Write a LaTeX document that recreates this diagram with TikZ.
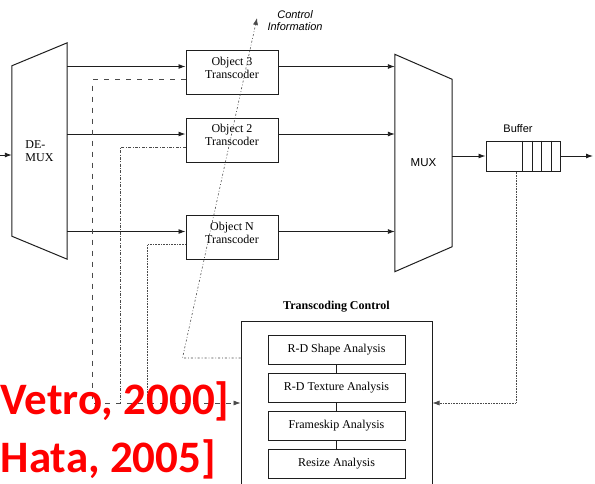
\documentclass[tikz,border=0pt]{standalone}
\usepackage{fontspec}
\setmainfont{Liberation Serif}
\setsansfont{Liberation Sans}
\newfontfamily\citefont{Carlito}
\usetikzlibrary{arrows.meta,positioning}
\definecolor{ink}{HTML}{1E1E1E}
\definecolor{trace}{HTML}{4A4A4A}
\definecolor{citered}{HTML}{FF0000}
\tikzset{box/.style={draw=ink,line width=1pt,align=center,
  font=\fontsize{12}{13}\selectfont,inner sep=2pt},
  objbox/.style={box,minimum width=92pt,minimum height=44pt},
  boxtext/.style={align=center,font=\fontsize{12}{13}\selectfont,yshift=5pt},
  stagebox/.style={box,minimum width=137pt,minimum height=29pt},
  muxbox/.style={inner sep=0pt,font=\fontsize{12}{13}\selectfont},
  arrow/.style={-{Latex[length=7pt,width=5pt]},line width=0.9pt,draw=ink},
  link/.style={line width=1pt,draw=ink},
  feedA/.style={draw=trace,line width=0.6pt,dash pattern=on 5pt off 6pt},
  feedB/.style={draw=trace,line width=0.5pt,dash pattern=on 3pt off 1.5pt on 0.8pt off 1.5pt},
  feedC/.style={draw=trace,line width=0.6pt,densely dotted},
  ctrlline/.style={draw=trace,line width=0.6pt,dash pattern=on 2pt off 2pt on 0.8pt off 2pt},
  citation/.style={font=\citefont\bfseries\fontsize{45}{54}\selectfont,
  text=citered,anchor=base west,inner sep=0pt}}

\begin{document}
\begin{tikzpicture}[x=1pt,y=-1pt,node distance=8pt]
\useasboundingbox (0,0) rectangle (595,483);
\node[muxbox,align=left,minimum width=55pt,minimum height=216pt] (demux) at (39.5,151) {DE-\\MUX};
\draw[link] (demux.north east) -- (demux.south east) -- ([yshift=23pt]demux.south west)
  -- ([yshift=-23pt]demux.north west) -- cycle;
\node[muxbox,font=\sffamily\fontsize{11.5}{13}\selectfont,minimum width=57pt,minimum height=217pt] (mux) at (423.5,163) {MUX};
\draw[link] (mux.north west) -- (mux.south west) -- ([yshift=25pt]mux.south east)
  -- ([yshift=-25pt]mux.north east) -- cycle;
\node[objbox,label={[boxtext]center:{Object 3\\Transcoder}}] (obj3) at (232,72.5) {};
\node[objbox,label={[boxtext]center:{Object 2\\Transcoder}}] (obj2) at (232,140) {};
\node[objbox,label={[boxtext]center:{Object N\\Transcoder}}] (objN) at (232,237.5) {};
\node[box,minimum width=74pt,minimum height=30pt] (buf) at (523,156) {};
\node[font=\sffamily\fontsize{11}{12}\selectfont,above=4pt of buf,xshift=-5pt] (buftitle) {Buffer};
\draw[link] ([xshift=-1pt]buf.north) -- ([xshift=-1pt]buf.south);
\draw[link] ([xshift=9pt]buf.north) -- ([xshift=9pt]buf.south);
\draw[link] ([xshift=18pt]buf.north) -- ([xshift=18pt]buf.south);
\draw[link] ([xshift=28pt]buf.north) -- ([xshift=28pt]buf.south);
\node[box,minimum width=191pt,minimum height=164pt] (ctrl) at (336.5,403) {};
\node[font=\bfseries\fontsize{12}{13}\selectfont,above=5pt of ctrl] (ctrltitle) {Transcoding Control};
\node[stagebox,anchor=north] (shape) at ([yshift=-14pt]ctrl.north) {R-D Shape Analysis};
\node[stagebox,below=of shape] (texture) {R-D Texture Analysis};
\node[stagebox,below=of texture] (frameskip) {Frameskip Analysis};
\node[stagebox,below=of frameskip] (resize) {Resize Analysis};
\coordinate (in) at (0,155);
\coordinate (out) at (593,156);
\coordinate (ci) at (257,18);
\node[font=\sffamily\itshape\fontsize{11}{12}\selectfont,align=center,right=7pt of ci,yshift=-3pt] (citext) {Control\\Information};
\draw[link] (shape) -- (texture);
\draw[link] (texture) -- (frameskip);
\draw[link] (frameskip) -- (resize);
\draw[arrow] (in) -- (in -| demux.west);
\draw[arrow] ([yshift=6pt]obj3.west -| demux.east) -- ([yshift=6pt]obj3.west);
\draw[arrow] ([yshift=6pt]obj2.west -| demux.east) -- ([yshift=6pt]obj2.west);
\draw[arrow] ([yshift=6pt]objN.west -| demux.east) -- ([yshift=6pt]objN.west);
\draw[arrow] ([yshift=6pt]obj3.east) -- ([yshift=6pt]obj3.east -| mux.west);
\draw[arrow] ([yshift=6pt]obj2.east) -- ([yshift=6pt]obj2.east -| mux.west);
\draw[arrow] ([yshift=6pt]objN.east) -- ([yshift=6pt]objN.east -| mux.west);
\draw[arrow] (buf.west -| mux.east) -- (buf.west);
\draw[arrow] (buf.east) -- (out);
\draw[arrow,feedC] ([xshift=-7pt]buf.south) |- (ctrl.east);
\draw[arrow,feedA] ([yshift=-7pt]obj3.west) -| ([xshift=-148pt]ctrl.west) -- (ctrl.west);
\draw[feedB] ([yshift=-7pt]obj2.west) -| ([xshift=-120pt]ctrl.west);
\draw[feedC] ([yshift=-7pt]objN.west) -| ([xshift=-93pt]ctrl.west);
\draw[arrow,ctrlline] ([yshift=45pt]ctrl.west) -- ++(-58pt,0) -- (ci);
\node[citation] (vetro) at (0.5,414) {Vetro, 2000]};
\node[citation] (hata) at (0.5,472) {Hata, 2005]};
\end{tikzpicture}
\end{document}
